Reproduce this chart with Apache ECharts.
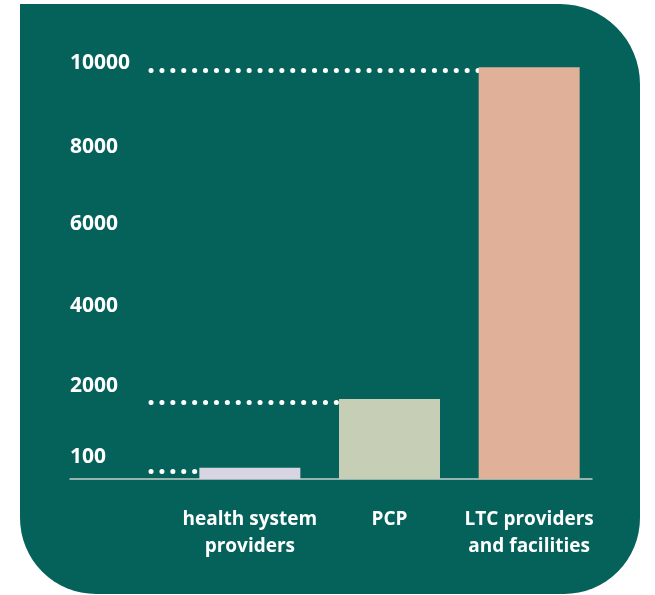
<!DOCTYPE html>
<html>
<head>
<meta charset="utf-8">
<script src="https://cdn.jsdelivr.net/npm/echarts@6/dist/echarts.min.js"></script>
<style>
  html, body { margin: 0; padding: 0; background: #ffffff; }
  #chart { width: 655px; height: 595px; }
</style>
</head>
<body>
<div id="chart"></div>
<script>
// ---- data ----
const categories = ['health system\nproviders', 'PCP', 'LTC providers\nand facilities'];
const barValues = [274, 1943, 10000];
const barColors = ['#d9d4e2', '#c6cfb6', '#e0b098'];
// dotted guide levels for each bar
const guideValues = [177, 1853, 9932];
// y tick labels and the levels where they sit
const tickLabels = ['100', '2000', '4000', '6000', '8000', '10000'];
const tickPositions = [530, 2250, 4205, 6185, 8050, 10100];

const yMax = 11000;
const font = '"Open Sans", Lato, sans-serif';

const chart = echarts.init(document.getElementById('chart'), null, { renderer: 'canvas' });

const labelMap = {};
tickPositions.forEach((v, i) => { labelMap[v] = tickLabels[i]; });

const guideData = guideValues.map((v, i) => [
  { x: 151, yAxis: v },
  { xAxis: i, yAxis: v }
]);

chart.setOption({
  animation: false,
  backgroundColor: '#ffffff',
  graphic: [{
    type: 'rect',
    z: -10,
    silent: true,
    shape: { x: 20, y: 4, width: 620, height: 590, r: [0, 80, 76, 76] },
    style: { fill: '#05625b' }
  }],
  grid: [
    { left: 180, right: 56, top: 26, bottom: 116 },
    { left: 70, right: 63, top: 26, bottom: 116 }
  ],
  xAxis: [
    {
      type: 'category', gridIndex: 0, data: categories,
      axisLine: { show: false }, axisTick: { show: false },
      axisLabel: {
        color: '#ffffff', fontFamily: font, fontWeight: 'bold', fontSize: 19,
        lineHeight: 27, margin: 27, interval: 0
      }
    },
    {
      type: 'value', gridIndex: 1, min: 0, max: 1,
      axisLine: { show: true, lineStyle: { color: '#c6cecb', width: 1.5 } },
      axisTick: { show: false }, axisLabel: { show: false }, splitLine: { show: false }
    }
  ],
  yAxis: [
    {
      type: 'value', gridIndex: 0, min: 0, max: yMax,
      axisLine: { show: false }, axisTick: { show: false },
      axisLabel: { show: false }, splitLine: { show: false }
    },
    {
      type: 'value', gridIndex: 1, min: 0, max: yMax,
      axisLine: { show: false }, axisTick: { show: false }, splitLine: { show: false },
      axisLabel: {
        inside: true, margin: 0, align: 'left',
        customValues: tickPositions,
        formatter: (v) => labelMap[v] || '',
        color: '#ffffff', fontFamily: font, fontWeight: 'bold', fontSize: 21
      }
    }
  ],
  series: [
    {
      type: 'line', xAxisIndex: 0, yAxisIndex: 0, data: [], z: 1,
      markLine: {
        silent: true, symbol: ['none', 'none'],
        label: { show: false },
        lineStyle: { color: '#ffffff', width: 5, type: [0.1, 10.8], cap: 'round' },
        data: guideData
      }
    },
    {
      type: 'bar', xAxisIndex: 0, yAxisIndex: 0, z: 5,
      barWidth: 101,
      data: barValues.map((v, i) => ({ value: v, itemStyle: { color: barColors[i] } }))
    }
  ]
});
</script>
</body>
</html>
